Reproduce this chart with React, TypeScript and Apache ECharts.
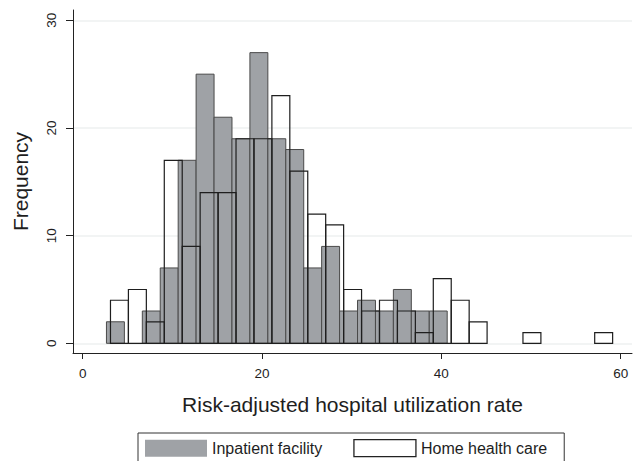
import React, { useEffect, useRef } from "react";
import * as echarts from "echarts";

// Histogram bin counts (bin width 2)
const binWidth = 2;
const inpatientStart = 2.65;
const inpatientCounts = [2, 0, 3, 7, 17, 25, 21, 19, 27, 19, 18, 7, 9, 3, 4, 3, 5, 3, 3];
const homeStart = 3.1;
const homeCounts = [4, 5, 2, 17, 9, 14, 14, 19, 19, 23, 16, 12, 11, 5, 3, 4, 3, 1, 6, 4, 2, 0, 0, 1, 0, 0, 0, 1];

const xTicks = [0, 20, 40, 60];
const yTicks = [0, 10, 20, 30];
const seriesNames = ["Inpatient facility", "Home health care"];

const FONT = "'Liberation Sans', Arial, Helvetica, sans-serif";
const GRAY = "#9fa2a6";

function toBins(start: number, counts: number[]) {
  return counts.map((c, i) => [start + i * binWidth, start + (i + 1) * binWidth, c]);
}

function makeRender(fill: string, stroke: string, lw: number) {
  return (params: any, api: any) => {
    const h = api.value(2);
    if (!h) return null;
    const p0 = api.coord([api.value(0), h]);
    const p1 = api.coord([api.value(1), 0]);
    return {
      type: "rect",
      shape: { x: p0[0], y: p0[1], width: p1[0] - p0[0], height: p1[1] - p0[1] },
      style: { fill, stroke, lineWidth: lw },
    };
  };
}

export default function App() {
  const ref = useRef<HTMLDivElement>(null);
  useEffect(() => {
    if (!ref.current) return;
    const chart = echarts.init(ref.current, null, { renderer: "svg" });
    chart.setOption({
      animation: false,
      backgroundColor: "#ffffff",
      textStyle: { fontFamily: FONT },
      grid: { left: 73, right: 1, top: 10, bottom: 108, containLabel: false },
      xAxis: {
        type: "value",
        min: -1.08,
        max: 61.26,
        name: "Risk-adjusted hospital utilization rate",
        nameLocation: "middle",
        nameGap: 41,
        nameTextStyle: { fontSize: 21, color: "#1e1e1e", fontFamily: FONT },
        axisLine: { show: true, onZero: false, lineStyle: { color: "#222", width: 1 } },
        axisTick: { show: true, length: 6, customValues: xTicks, lineStyle: { color: "#222" } },
        axisLabel: { customValues: xTicks, fontSize: 13.5, color: "#1e1e1e", margin: 13, fontFamily: FONT },
        splitLine: { show: false },
      },
      yAxis: {
        type: "value",
        min: -0.9,
        max: 30.96,
        name: "Frequency",
        nameLocation: "middle",
        nameRotate: 90,
        nameGap: 42,
        nameTextStyle: { fontSize: 21, color: "#1e1e1e", fontFamily: FONT },
        axisLine: { show: true, onZero: false, lineStyle: { color: "#222", width: 1 } },
        axisTick: { show: true, length: 7, customValues: yTicks, lineStyle: { color: "#222" } },
        axisLabel: { customValues: yTicks, rotate: 90, fontSize: 13.5, color: "#1e1e1e", margin: 15, fontFamily: FONT },
        splitLine: { show: true, lineStyle: { color: "#eef0f0", width: 1.5 } },
      },
      legend: {
        left: 138,
        top: 433,
        orient: "horizontal",
        padding: [6, 17, 6, 7],
        itemWidth: 62,
        itemHeight: 17,
        itemGap: 31,
        borderColor: "#333",
        borderWidth: 1,
        textStyle: { fontSize: 16, color: "#1e1e1e", fontFamily: FONT },
        data: [
          { name: seriesNames[0], icon: "rect", itemStyle: { color: GRAY, borderWidth: 0 } },
          { name: seriesNames[1], icon: "rect", itemStyle: { color: "#ffffff", borderColor: "#222", borderWidth: 1.3 } },
        ],
      },
      series: [
        {
          name: seriesNames[0],
          type: "custom",
          renderItem: makeRender(GRAY, "#4a4a4a", 1),
          itemStyle: { color: GRAY },
          encode: { x: [0, 1], y: 2 },
          data: toBins(inpatientStart, inpatientCounts),
          z: 2,
        },
        {
          name: seriesNames[1],
          type: "custom",
          renderItem: makeRender("none", "#1e1e1e", 1.2),
          itemStyle: { color: "#ffffff" },
          encode: { x: [0, 1], y: 2 },
          data: toBins(homeStart, homeCounts),
          z: 3,
        },
      ],
    });
    return () => chart.dispose();
  }, []);
  return <div ref={ref} style={{ position: "absolute", left: 0, top: 0, width: 633, height: 461 }} />;
}
